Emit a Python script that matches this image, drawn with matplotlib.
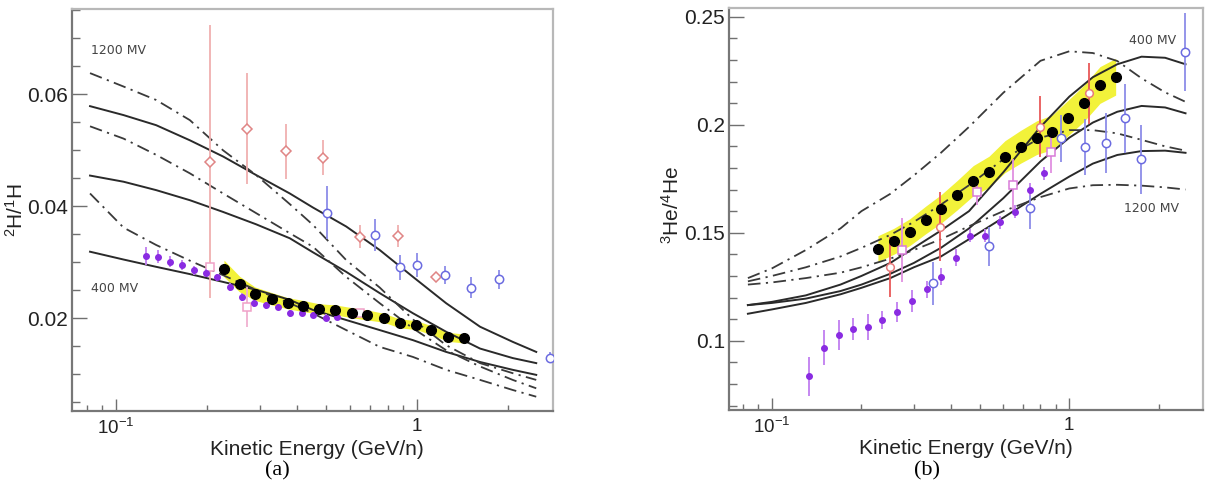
import matplotlib
matplotlib.use("Agg")
import matplotlib.pyplot as plt
from matplotlib.ticker import FixedLocator, FixedFormatter, MultipleLocator, NullFormatter
import numpy as np

plt.rcParams["font.family"] = ["Liberation Sans", "DejaVu Sans"]
plt.rcParams["mathtext.default"] = "regular"

# ---------------- panel (a): 2H/1H ----------------
# model curves, read at these energies (GeV/n)
grid_h = [0.082, 0.106, 0.136, 0.176, 0.227, 0.292, 0.378, 0.451,
          0.582, 0.752, 0.970, 1.25, 1.62, 2.08, 2.49]
h_solid_top = [0.0579, 0.0563, 0.0545, 0.0518, 0.0489, 0.0456, 0.0423, 0.0398,
               0.0364, 0.0322, 0.0274, 0.0227, 0.0185, 0.0158, 0.0140]
h_solid_mid = [0.0455, 0.0444, 0.0429, 0.0411, 0.0390, 0.0368, 0.0343, 0.0318,
               0.0283, 0.0245, 0.0209, 0.0176, 0.0146, 0.0129, 0.0120]
h_solid_low = [0.0319, 0.0305, 0.0292, 0.0279, 0.0265, 0.0251, 0.0233, 0.0215,
               0.0197, 0.0179, 0.0161, 0.0140, 0.0122, 0.0108, 0.0099]
h_dash_top = [0.0638, 0.0614, 0.0590, 0.0554, 0.0500, 0.0456, 0.0404, 0.0367,
              0.0304, 0.0255, 0.0198, 0.0152, 0.0120, 0.0102, 0.0090]
h_dash_mid = [0.0543, 0.0521, 0.0492, 0.0459, 0.0423, 0.0388, 0.0352, 0.0328,
              0.0274, 0.0227, 0.0182, 0.0143, 0.0114, 0.0090, 0.0075]
h_dash_low = [0.0423, 0.0362, 0.0331, 0.0303, 0.0277, 0.0251, 0.0227, 0.0209,
              0.0179, 0.0149, 0.0131, 0.0108, 0.0090, 0.0072, 0.0060]

h_purple_e = [0.1255, 0.1382, 0.1512, 0.1653, 0.1812, 0.1986, 0.2171, 0.2385, 0.2616,
              0.2867, 0.3144, 0.3445, 0.3776, 0.4140, 0.4513, 0.4975, 0.5423]
h_purple_r = [0.0312, 0.0310, 0.0301, 0.0296, 0.0286, 0.0281, 0.0273, 0.0256, 0.0238,
              0.0227, 0.0223, 0.0220, 0.0209, 0.0210, 0.0206, 0.0201, 0.0203]
h_purple_err = [0.0016, 0.0012, 0.0010, 0.0009, 0.0008, 0.0008, 0.0007, 0.0007, 0.0007,
                0.0006, 0.0006, 0.0006, 0.0006, 0.0006, 0.0006, 0.0006, 0.0006]

h_black_e = [0.2284, 0.2576, 0.2896, 0.3291, 0.3718, 0.4182, 0.4725, 0.5355,
             0.6081, 0.6836, 0.7749, 0.8759, 0.9901, 1.1155, 1.2647, 1.4293]
h_black_r = [0.0289, 0.0261, 0.0244, 0.0235, 0.0227, 0.0222, 0.0217, 0.0215,
             0.0210, 0.0206, 0.0201, 0.0191, 0.0188, 0.0179, 0.0167, 0.0164]
h_band = [0.0015, 0.0014, 0.0012, 0.0011, 0.0010, 0.0010, 0.0009, 0.0009,
          0.0009, 0.0009, 0.0008, 0.0008, 0.0008, 0.0008, 0.0008, 0.0008]

h_red_e = [0.2048, 0.2730, 0.3663, 0.4872, 0.6477, 0.8648, 1.1536]
h_red_r = [0.0480, 0.0539, 0.0498, 0.0487, 0.0346, 0.0347, 0.0274]
h_red_err = [0.0244, 0.0099, 0.0049, 0.0031, 0.0021, 0.0020, 0.0009]

h_blue_e = [0.5023, 0.7253, 0.8800, 1.0, 1.2417, 1.508, 1.872, 2.76]
h_blue_r = [0.0389, 0.0349, 0.0291, 0.0295, 0.0277, 0.0255, 0.0270, 0.0130]
h_blue_err = [0.0048, 0.0028, 0.0022, 0.0022, 0.0016, 0.0019, 0.0017, 0.0010]

h_pink_e = [0.2048, 0.2730, 0.645]
h_pink_r = [0.0292, 0.0220, 0.0209]
h_pink_err = [0.0, 0.0036, 0.0]

# ---------------- panel (b): 3He/4He ----------------
grid_he = [0.083, 0.1, 0.13, 0.17, 0.2, 0.25, 0.3, 0.37, 0.46,
           0.6, 0.8, 1.0, 1.2, 1.45, 1.75, 2.1, 2.46]
he_solid_top = [0.1165, 0.118, 0.121, 0.126, 0.130, 0.136, 0.143, 0.151, 0.160,
                0.178, 0.199, 0.213, 0.222, 0.228, 0.2315, 0.231, 0.228]
he_solid_mid = [0.1165, 0.1175, 0.1195, 0.123, 0.126, 0.131, 0.136, 0.143, 0.152,
                0.166, 0.183, 0.194, 0.201, 0.206, 0.2087, 0.208, 0.2053]
he_solid_low = [0.1125, 0.1145, 0.1175, 0.1215, 0.1245, 0.129, 0.134, 0.139, 0.147,
                0.157, 0.168, 0.176, 0.182, 0.186, 0.1878, 0.188, 0.187]
he_dash_top = [0.129, 0.1335, 0.142, 0.152, 0.160, 0.168, 0.1765, 0.187, 0.199,
               0.2148, 0.2296, 0.234, 0.2332, 0.2295, 0.2215, 0.215, 0.2106]
he_dash_mid = [0.1275, 0.130, 0.134, 0.139, 0.143, 0.149, 0.155, 0.163, 0.172,
               0.184, 0.194, 0.1975, 0.1975, 0.196, 0.193, 0.190, 0.188]
he_dash_low = [0.126, 0.127, 0.129, 0.1315, 0.134, 0.138, 0.142, 0.147, 0.153,
               0.160, 0.1665, 0.1705, 0.172, 0.1722, 0.1718, 0.171, 0.170]

he_purple_e = [0.1332, 0.1496, 0.1675, 0.1873, 0.2099, 0.2350, 0.2639, 0.2957, 0.3314,
               0.3711, 0.4149, 0.4630, 0.5192, 0.5832, 0.6550, 0.7357, 0.8220]
he_purple_r = [0.0836, 0.0967, 0.1028, 0.1055, 0.1064, 0.1096, 0.1134, 0.1185, 0.1238,
               0.1296, 0.1384, 0.1487, 0.1485, 0.1548, 0.1597, 0.1698, 0.1775]
he_purple_err = [0.0090, 0.0081, 0.0069, 0.0050, 0.0060, 0.0040, 0.0046, 0.0050, 0.0040,
                 0.0040, 0.0040, 0.0030, 0.0030, 0.0030, 0.0030, 0.0030, 0.0030]

he_black_e = [0.2272, 0.2567, 0.2904, 0.3288, 0.3711, 0.4191, 0.4755, 0.5369,
              0.6076, 0.6863, 0.7768, 0.8766, 0.9922, 1.1205, 1.2683, 1.432]
he_black_r = [0.1426, 0.1460, 0.1502, 0.1559, 0.1611, 0.1673, 0.1741, 0.1782,
              0.1852, 0.1898, 0.1940, 0.1965, 0.2032, 0.2099, 0.2184, 0.2222]
he_band = [0.0060, 0.0060, 0.0062, 0.0064, 0.0066, 0.0068, 0.0070, 0.0072,
           0.0074, 0.0076, 0.0078, 0.0080, 0.0082, 0.0084, 0.0085, 0.0085]

he_red_e = [0.249, 0.367, 0.797, 1.165]
he_red_r = [0.1342, 0.1528, 0.1991, 0.2145]
he_red_err = [0.014, 0.016, 0.014, 0.014]

he_pink_e = [0.2744, 0.4882, 0.6480, 0.870]
he_pink_r = [0.1420, 0.1690, 0.1721, 0.1875]
he_pink_err = [0.0146, 0.006, 0.012, 0.010]

he_blue_e = [0.3488, 0.537, 0.7356, 0.9357, 1.127, 1.332, 1.540, 1.739, 2.443]
he_blue_r = [0.1266, 0.1438, 0.1616, 0.1937, 0.1898, 0.1916, 0.2029, 0.1840, 0.2338]
he_blue_err = [0.010, 0.009, 0.010, 0.011, 0.013, 0.014, 0.016, 0.016, 0.018]

x_major = [0.1, 1.0]
x_major_labels = ["$10^{-1}$", "1"]
x_minor = [0.08, 0.09, 0.2, 0.3, 0.4, 0.5, 0.6, 0.7, 0.8, 0.9, 2.0]

DASHDOT = (0, (7, 3, 1.2, 3))
CURVE = "#2a2a2a"


def style_axes(ax, xlim, ylim, ymajor, yminor):
    ax.set_xscale("log")
    ax.set_xlim(*xlim)
    ax.set_ylim(*ylim)
    ax.xaxis.set_major_locator(FixedLocator(x_major))
    ax.xaxis.set_major_formatter(FixedFormatter(x_major_labels))
    ax.xaxis.set_minor_locator(FixedLocator(x_minor))
    ax.xaxis.set_minor_formatter(NullFormatter())
    ax.yaxis.set_major_locator(FixedLocator(ymajor))
    ax.yaxis.set_minor_locator(MultipleLocator(yminor))
    ax.tick_params(which="both", direction="in", color="#707070", width=1.0)
    ax.tick_params(axis="x", which="major", length=9, labelsize=13.5, pad=5, labelcolor="#222222")
    ax.tick_params(axis="x", which="minor", length=4.5)
    ax.tick_params(axis="y", which="major", length=11, labelsize=15, pad=3, labelcolor="#222222")
    ax.tick_params(axis="y", which="minor", length=6)
    for side in ["left", "bottom"]:
        ax.spines[side].set_color("#777777")
        ax.spines[side].set_linewidth(1.6)
    for side in ["top", "right"]:
        ax.spines[side].set_color("#b8b8b8")
        ax.spines[side].set_linewidth(1.6)


def draw_curves(ax, grid, solids, dashes):
    for ys in solids:
        ax.plot(grid, ys, color=CURVE, lw=1.4, zorder=2)
    for ys in dashes:
        ax.plot(grid, ys, color="#3a3a3a", lw=1.3, linestyle=DASHDOT, zorder=2)


fig = plt.figure(figsize=(12.24, 4.96), dpi=100)
ax1 = fig.add_axes([72.3 / 1224, 1 - 410.7 / 496, 480.4 / 1224, 401.4 / 496])
ax2 = fig.add_axes([729 / 1224, 1 - 410.3 / 496, 474.3 / 1224, 402.0 / 496])

# ---- (a)
style_axes(ax1, (0.0716, 2.824), (0.0035, 0.0752), [0.02, 0.04, 0.06], 0.005)
ax1.yaxis.set_major_formatter(FixedFormatter(["0.02", "0.04", "0.06"]))
hb = np.array(h_band)
ax1.fill_between(h_black_e, np.array(h_black_r) - hb, np.array(h_black_r) + hb,
                 color="#f2f23a", lw=0, zorder=1)
draw_curves(ax1, grid_h, [h_solid_top, h_solid_mid, h_solid_low],
            [h_dash_top, h_dash_mid, h_dash_low])
ax1.errorbar(h_red_e, h_red_r, yerr=h_red_err, fmt="D", ms=5, mfc="white", mec="#e08585",
             mew=1.1, ecolor="#f0b0b0", elinewidth=1.3, capsize=0, zorder=3)
ax1.errorbar(h_pink_e, h_pink_r, yerr=h_pink_err, fmt="s", ms=5.5, mfc="white", mec="#f0a0c8",
             mew=1.1, ecolor="#f0b0d0", elinewidth=1.3, capsize=0, zorder=3)
ax1.errorbar(h_blue_e, h_blue_r, yerr=h_blue_err, fmt="o", ms=6, mfc="white", mec="#6b6be0",
             mew=1.1, ecolor="#8c8ce8", elinewidth=1.3, capsize=0, zorder=3)
ax1.errorbar(h_purple_e, h_purple_r, yerr=h_purple_err, fmt="o", ms=4, color="#8a2be2",
             ecolor="#c07ef0", elinewidth=1.3, capsize=0, zorder=4)
ax1.plot(h_black_e, h_black_r, "o", ms=7, color="black", zorder=5)
ax1.text(0.0826, 0.0678, "1200 MV", fontsize=9, color="#444444", family="DejaVu Sans",
         ha="left", va="center")
ax1.text(0.0826, 0.0254, "400 MV", fontsize=9, color="#444444", family="DejaVu Sans",
         ha="left", va="center")
ax1.set_xlabel("Kinetic Energy (GeV/n)", fontsize=15, color="#222222")
ax1.xaxis.set_label_coords(0.51, -0.072)
ax1.xaxis.label.set_va("top")
ax1.set_ylabel("$^{2}$H/$^{1}$H", fontsize=15, color="#222222")
ax1.yaxis.set_label_coords(-0.095, 0.5)

# ---- (b)
style_axes(ax2, (0.0717, 2.823), (0.0678, 0.2539), [0.1, 0.15, 0.2, 0.25], 0.01)
ax2.yaxis.set_major_formatter(FixedFormatter(["0.1", "0.15", "0.2", "0.25"]))
hb2 = np.array(he_band)
ax2.fill_between(he_black_e, np.array(he_black_r) - hb2, np.array(he_black_r) + hb2,
                 color="#f2f23a", lw=0, zorder=1)
draw_curves(ax2, grid_he, [he_solid_top, he_solid_mid, he_solid_low],
            [he_dash_top, he_dash_mid, he_dash_low])
ax2.errorbar(he_red_e, he_red_r, yerr=he_red_err, fmt="o", ms=5.5, mfc="white", mec="#e87a7a",
             mew=1.1, ecolor="#e85858", elinewidth=1.3, capsize=0, zorder=3)
ax2.errorbar(he_pink_e, he_pink_r, yerr=he_pink_err, fmt="s", ms=5.5, mfc="white", mec="#d87ad8",
             mew=1.1, ecolor="#e090e0", elinewidth=1.3, capsize=0, zorder=3)
ax2.errorbar(he_blue_e, he_blue_r, yerr=he_blue_err, fmt="o", ms=6, mfc="white", mec="#6b6be0",
             mew=1.1, ecolor="#8c8ce8", elinewidth=1.3, capsize=0, zorder=3)
ax2.errorbar(he_purple_e, he_purple_r, yerr=he_purple_err, fmt="o", ms=4, color="#8a2be2",
             ecolor="#c07ef0", elinewidth=1.3, capsize=0, zorder=4)
ax2.plot(he_black_e, he_black_r, "o", ms=7, color="black", zorder=5)
ax2.text(1.588, 0.2389, "400 MV", fontsize=9, color="#444444", family="DejaVu Sans",
         ha="left", va="center")
ax2.text(1.528, 0.1613, "1200 MV", fontsize=9, color="#444444", family="DejaVu Sans",
         ha="left", va="center")
ax2.set_xlabel("Kinetic Energy (GeV/n)", fontsize=15, color="#222222")
ax2.xaxis.set_label_coords(0.5, -0.072)
ax2.xaxis.label.set_va("top")
ax2.set_ylabel("$^{3}$He/$^{4}$He", fontsize=15, color="#222222")
ax2.yaxis.set_label_coords(-0.097, 0.51)

fig.text(277 / 1224, 1 - 471 / 496, "(a)", fontsize=16, family="Liberation Serif",
         ha="center", va="center")
fig.text(927 / 1224, 1 - 471 / 496, "(b)", fontsize=16, family="Liberation Serif",
         ha="center", va="center")

fig.savefig("out.png", dpi=100)
